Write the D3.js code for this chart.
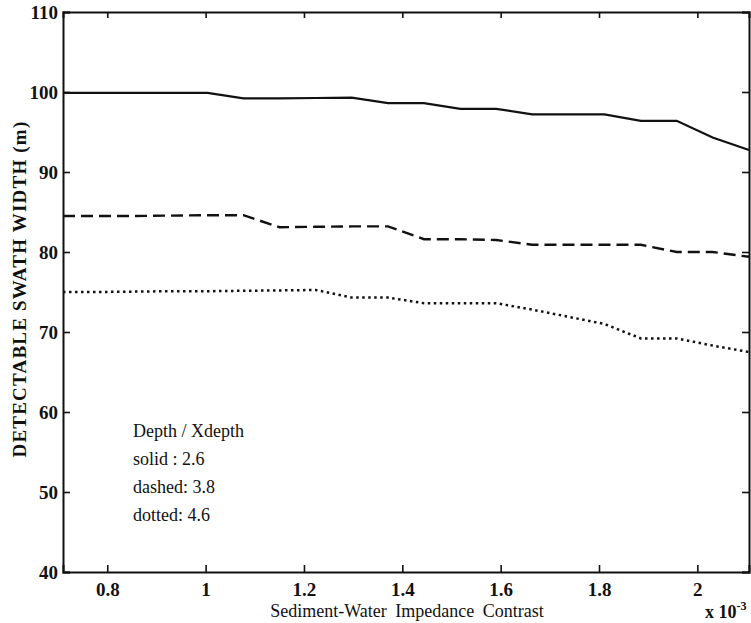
<!DOCTYPE html>
<html lang="en">
<head>
    <meta charset="UTF-8">
    <title>Detectable Swath Width vs Impedance Contrast</title>
    <script src="https://d3js.org/d3.v7.min.js"></script>
    <style>
        body {
            margin: 0;
            background: #fff;
        }
        svg {
            display: block;
        }
        svg text {
            font-family: "Times New Roman", "Liberation Serif", "DejaVu Serif", serif;
        }
    </style>
</head>
<body>
    <div id="chart"></div>

    <script>
        // Impedance contrast (x 10^-3)
        const contrast = [0.710, 0.783, 0.857, 0.930, 1.004, 1.077, 1.150, 1.224, 1.297, 1.371,
                          1.444, 1.518, 1.591, 1.664, 1.738, 1.811, 1.885, 1.958, 2.031, 2.105];
        // Depth / Xdepth = 2.6
        const solidWidth = [99.9, 99.9, 99.9, 99.9, 99.9, 99.2, 99.2, 99.25, 99.3, 98.6,
                            98.6, 97.9, 97.9, 97.2, 97.2, 97.2, 96.4, 96.4, 94.3, 92.75];
        // Depth / Xdepth = 3.8
        const dashedWidth = [84.5, 84.5, 84.5, 84.55, 84.6, 84.6, 83.1, 83.15, 83.2, 83.2,
                             81.6, 81.6, 81.5, 80.9, 80.9, 80.9, 80.9, 80.0, 80.0, 79.4];
        // Depth / Xdepth = 4.6
        const dottedWidth = [75.0, 75.0, 75.05, 75.1, 75.1, 75.15, 75.2, 75.25, 74.3, 74.3,
                             73.6, 73.6, 73.6, 72.8, 71.9, 71.0, 69.2, 69.2, 68.3, 67.5];

        const xTicks = [0.8, 1, 1.2, 1.4, 1.6, 1.8, 2];
        const yTicks = [40, 50, 60, 70, 80, 90, 100, 110];
        const legendLines = ["Depth / Xdepth", "solid : 2.6", "dashed: 3.8", "dotted: 4.6"];

        const W = 751, H = 623;
        const margin = { top: 12, right: 2, bottom: 51, left: 63 };
        const width = W - margin.left - margin.right;
        const height = H - margin.top - margin.bottom;

        const svg = d3.select("#chart")
            .append("svg")
            .attr("width", W)
            .attr("height", H);

        const g = svg.append("g")
            .attr("transform", `translate(${margin.left}, ${margin.top})`);

        // Scales
        const x = d3.scaleLinear().domain([0.71, 2.105]).range([0, width]);
        const y = d3.scaleLinear().domain([40, 110]).range([height, 0]);

        const fmt = d3.format("~g");

        // Axes, ticks pointing inward on all four sides
        g.append("g")
            .attr("transform", `translate(0, ${height})`)
            .call(d3.axisBottom(x).tickValues(xTicks).tickFormat(fmt).tickSize(-7).tickPadding(11));
        g.append("g")
            .call(d3.axisTop(x).tickValues(xTicks).tickFormat("").tickSize(-6));
        g.append("g")
            .call(d3.axisLeft(y).tickValues(yTicks).tickSize(-7).tickPadding(5));
        g.append("g")
            .attr("transform", `translate(${width}, 0)`)
            .call(d3.axisRight(y).tickValues(yTicks).tickFormat("").tickSize(-7));

        g.selectAll(".domain").attr("stroke", "#111").attr("stroke-width", 2);
        g.selectAll(".tick line").attr("stroke", "#111").attr("stroke-width", 1.6);
        g.selectAll(".tick text")
            .attr("fill", "#111")
            .attr("font-family", null)
            .style("font-size", "19px")
            .style("font-weight", "bold");

        // Lines
        const line = d3.line()
            .x((d, i) => x(contrast[i]))
            .y(d => y(d));

        g.append("path")
            .datum(solidWidth)
            .attr("fill", "none")
            .attr("stroke", "#111")
            .attr("stroke-width", 2.2)
            .attr("d", line);

        g.append("path")
            .datum(dashedWidth)
            .attr("fill", "none")
            .attr("stroke", "#111")
            .attr("stroke-width", 2.4)
            .attr("stroke-dasharray", "12,6")
            .attr("d", line);

        g.append("path")
            .datum(dottedWidth)
            .attr("fill", "none")
            .attr("stroke", "#111")
            .attr("stroke-width", 2.5)
            .attr("stroke-dasharray", "2.5,3.5")
            .attr("d", line);

        // Legend text
        g.append("g")
            .selectAll("text")
            .data(legendLines)
            .enter()
            .append("text")
            .attr("x", 70)
            .attr("y", (d, i) => 425 + i * 28)
            .attr("fill", "#111")
            .style("font-size", "18px")
            .text(d => d);

        // Axis titles
        svg.append("text")
            .attr("transform", "translate(26, 289) rotate(-90)")
            .attr("text-anchor", "middle")
            .attr("fill", "#111")
            .style("font-size", "19px")
            .style("font-weight", "bold")
            .style("letter-spacing", "1.2px")
            .text("DETECTABLE SWATH WIDTH (m)");

        svg.append("text")
            .attr("x", 407)
            .attr("y", 617)
            .attr("text-anchor", "middle")
            .attr("fill", "#111")
            .style("font-size", "18px")
            .style("word-spacing", "4px")
            .text("Sediment-Water Impedance Contrast");

        const expo = svg.append("text")
            .attr("x", 705)
            .attr("y", 618)
            .attr("fill", "#111")
            .style("font-size", "18px")
            .style("font-weight", "bold");
        expo.append("tspan").text("x 10");
        expo.append("tspan")
            .attr("dy", -8)
            .style("font-size", "12px")
            .text("-3");
    </script>
</body>
</html>
